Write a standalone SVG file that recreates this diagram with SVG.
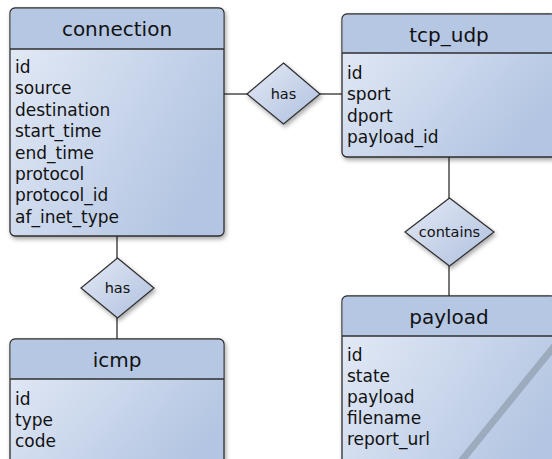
<svg xmlns="http://www.w3.org/2000/svg" width="552" height="459" viewBox="0 0 552 459">
<defs>
<linearGradient id="body" x1="0" y1="0" x2="1" y2="0.6">
<stop offset="0" stop-color="#e6ecf7"/>
<stop offset="1" stop-color="#b3c5e2"/>
</linearGradient>
<linearGradient id="dia" x1="0" y1="0" x2="1" y2="1">
<stop offset="0" stop-color="#e4eaf6"/>
<stop offset="1" stop-color="#aebfdd"/>
</linearGradient>
<filter id="sh" x="-10%" y="-10%" width="130%" height="130%">
<feDropShadow dx="1.5" dy="2.5" stdDeviation="2" flood-color="#000" flood-opacity="0.35"/>
</filter>
<clipPath id="pc"><rect x="342" y="296" width="214" height="200" rx="5"/></clipPath>
</defs>
<style>
.box{fill:url(#body);stroke:#2e2e2e;stroke-width:1.3;filter:url(#sh)}
.hdr{fill:#b6c7e4}
.div{stroke:#2e2e2e;stroke-width:1.3}
.dm{fill:url(#dia);stroke:#2e2e2e;stroke-width:1.2;filter:url(#sh)}
.ln{stroke:#2e2e2e;stroke-width:1.3;fill:none}
.t{font-family:"DejaVu Sans",Verdana,sans-serif;font-size:20px;fill:#111;text-anchor:middle}
.a{font-family:"DejaVu Sans",Verdana,sans-serif;font-size:17px;fill:#111}
.r{font-family:"DejaVu Sans",Verdana,sans-serif;font-size:14.5px;fill:#111;text-anchor:middle}
</style>
<g id="connectors">
<line class="ln" x1="224" y1="94" x2="247" y2="94"/>
<line class="ln" x1="320" y1="94" x2="342" y2="94"/>
<line class="ln" x1="117" y1="236" x2="117" y2="258"/>
<line class="ln" x1="117" y1="318" x2="117" y2="339"/>
<line class="ln" x1="449" y1="157" x2="449" y2="198"/>
<line class="ln" x1="449" y1="266" x2="449" y2="296"/>
</g>
<g id="connection">
<rect class="box" x="10" y="8" width="214" height="228" rx="5"/>
<path class="hdr" d="M15.6,8.7 H218.4 A4.4,4.4 0 0 1 223.3,13 V49 H10.7 V13 A4.4,4.4 0 0 1 15.6,8.7 Z"/>
<line class="div" x1="10" y1="49" x2="224" y2="49"/>
<text class="t" x="117" y="36">connection</text>
<text class="a" x="15" y="73">id</text>
<text class="a" x="15" y="94.4">source</text>
<text class="a" x="15" y="115.8">destination</text>
<text class="a" x="15" y="137.2">start_time</text>
<text class="a" x="15" y="158.6">end_time</text>
<text class="a" x="15" y="180">protocol</text>
<text class="a" x="15" y="201.4">protocol_id</text>
<text class="a" x="15" y="222.8">af_inet_type</text>
</g>
<g id="tcp_udp">
<rect class="box" x="342" y="14" width="214" height="143" rx="5"/>
<path class="hdr" d="M347.6,14.7 H550 A4.4,4.4 0 0 1 555.3,19 V53 H342.7 V19 A4.4,4.4 0 0 1 347.6,14.7 Z"/>
<line class="div" x1="342" y1="53" x2="556" y2="53"/>
<text class="t" x="449" y="42">tcp_udp</text>
<text class="a" x="347" y="79">id</text>
<text class="a" x="347" y="100.4">sport</text>
<text class="a" x="347" y="121.8">dport</text>
<text class="a" x="347" y="143.2">payload_id</text>
</g>
<g id="icmp">
<rect class="box" x="10" y="339" width="214" height="140" rx="5"/>
<path class="hdr" d="M15.6,339.7 H218.4 A4.4,4.4 0 0 1 223.3,344 V379 H10.7 V344 A4.4,4.4 0 0 1 15.6,339.7 Z"/>
<line class="div" x1="10" y1="379" x2="224" y2="379"/>
<text class="t" x="117" y="367">icmp</text>
<text class="a" x="15" y="405">id</text>
<text class="a" x="15" y="426">type</text>
<text class="a" x="15" y="447">code</text>
</g>
<g id="payload">
<rect class="box" x="342" y="296" width="214" height="200" rx="5"/>
<path class="hdr" d="M347.6,296.7 H550 A4.4,4.4 0 0 1 555.3,301 V336 H342.7 V301 A4.4,4.4 0 0 1 347.6,296.7 Z"/>
<line class="div" x1="342" y1="336" x2="556" y2="336"/>
<line x1="556" y1="344" x2="458" y2="465" stroke="#8e9cad" stroke-opacity="0.7" stroke-width="7" clip-path="url(#pc)"/>
<text class="t" x="449" y="324">payload</text>
<text class="a" x="347" y="361">id</text>
<text class="a" x="347" y="382">state</text>
<text class="a" x="347" y="403">payload</text>
<text class="a" x="347" y="424">filename</text>
<text class="a" x="347" y="445">report_url</text>
</g>
<g id="has1">
<polygon class="dm" points="283.5,63 320,94 283.5,124 247,94"/>
<text class="r" x="283.5" y="99">has</text>
</g>
<g id="has2">
<polygon class="dm" points="117.5,258 154,288 117.5,318 81,288"/>
<text class="r" x="117.5" y="293">has</text>
</g>
<g id="contains">
<polygon class="dm" points="449.5,198 494,232 449.5,266 405,232"/>
<text class="r" x="449.5" y="237">contains</text>
</g>
</svg>
